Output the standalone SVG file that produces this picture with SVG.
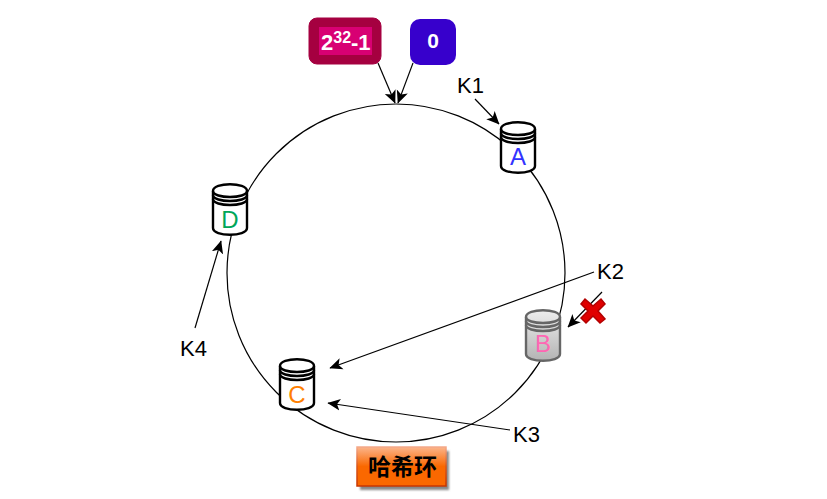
<svg xmlns="http://www.w3.org/2000/svg" width="827" height="499" viewBox="0 0 827 499">
<style>
.lbl{font-family:"Liberation Sans",Arial,sans-serif;font-size:22px;fill:#000}
.ltr{font-family:"Liberation Sans",Arial,sans-serif;font-size:24px;text-anchor:middle}
.c{fill:none;stroke:#000;stroke-width:1.2}
.body{stroke-width:2.4}
.wt{font-family:"Liberation Sans",Arial,sans-serif;font-weight:bold;fill:#fff}
</style>
<defs>
<marker id="a" viewBox="0 0 10 10" refX="9.5" refY="5" markerWidth="13" markerHeight="13" markerUnits="userSpaceOnUse" orient="auto"><path d="M0 0.5L10 5L0 9.5L2.5 5Z" fill="#000"/></marker>
<linearGradient id="g" x1="0" y1="0" x2="0" y2="1"><stop offset="0" stop-color="#eee"/><stop offset="1" stop-color="#b3b3b3"/></linearGradient>
<linearGradient id="o" x1="0" y1="0" x2="0" y2="1"><stop offset="0" stop-color="#fbb58c"/><stop offset=".5" stop-color="#fa6800"/><stop offset="1" stop-color="#fa6800"/></linearGradient>
<linearGradient id="ob" x1="0" y1="0" x2="0" y2="1"><stop offset="0" stop-color="#f4a98a"/><stop offset=".5" stop-color="#d9551a"/><stop offset="1" stop-color="#c73500"/></linearGradient>
<filter id="s" x="-10%" y="-10%" width="130%" height="130%"><feGaussianBlur stdDeviation="1"/></filter>
<g id="cyl">
<path class="body" d="M0 7C0-2 34-2 34 7V44C34 53 0 53 0 44Z"/>
<path class="body" fill="none" d="M0 7C0 15 34 15 34 7M0 11C0 19 34 19 34 11M0 15C0 23 34 23 34 15"/>
</g>
</defs>

<g id="connectors">
<circle class="c" cx="396" cy="273" r="169"/>
<g class="c">
<line x1="378" y1="63" x2="395" y2="103" marker-end="url(#a)"/>
<line x1="413" y1="63" x2="398" y2="103" marker-end="url(#a)"/>
<line x1="475" y1="99" x2="499" y2="124" marker-end="url(#a)"/>
<line x1="594" y1="272" x2="330" y2="368" marker-end="url(#a)"/>
<line x1="602" y1="292" x2="568" y2="327" marker-end="url(#a)"/>
<line x1="510" y1="430" x2="328" y2="403" marker-end="url(#a)"/>
<line x1="195" y1="328" x2="221" y2="241" marker-end="url(#a)"/>
</g>
</g>

<g id="max">
<rect x="309" y="18" width="72" height="46" rx="8" fill="#a50040" stroke="#a50040"/>
<rect x="319" y="27" width="53" height="28" fill="#d80073"/>
<text class="wt" x="321" y="50" font-size="22">2<tspan font-size="16" dy="-7">32</tspan><tspan dy="7">-1</tspan></text>
</g>
<g id="zero">
<rect x="410" y="19" width="46" height="46" rx="10" fill="#3700cc"/>
<text class="wt" x="433" y="48" font-size="21" text-anchor="middle">0</text>
</g>

<g id="A"><use href="#cyl" x="501" y="122" fill="#fff" stroke="#000"/><text class="ltr" x="518" y="165" fill="#3333ff">A</text></g>
<g id="B"><use href="#cyl" x="526" y="310" fill="url(#g)" stroke="#666"/><text class="ltr" x="543" y="352" fill="#ff66b3">B</text></g>
<g id="C"><use href="#cyl" x="280" y="359" fill="#fff" stroke="#000"/><text class="ltr" x="297" y="403" fill="#ff8000">C</text></g>
<g id="D"><use href="#cyl" x="213" y="184" fill="#fff" stroke="#000"/><text class="ltr" x="230" y="228" fill="#00a65a">D</text></g>

<g id="K1"><text class="lbl" x="457" y="93">K1</text></g>
<g id="K2"><text class="lbl" x="597" y="279">K2</text></g>
<g id="K3"><text class="lbl" x="513" y="442">K3</text></g>
<g id="K4"><text class="lbl" x="180" y="356">K4</text></g>

<g id="cross"><path d="M585 299L593 306L601 299L605 304L598 311L605 319L600 323L593 316L586 323L581 318L588 311L581 304Z" fill="#e00000" stroke="#b20000" stroke-width="1.5"/></g>

<g id="ring-label">
<rect x="360" y="451" width="89" height="39" fill="#888" filter="url(#s)"/>
<rect x="357" y="447" width="89" height="39" fill="url(#o)" stroke="url(#ob)" stroke-width="1.5"/>
<text x="402.5" y="475" font-family="'Noto Sans CJK SC',sans-serif" font-size="23" font-weight="bold" text-anchor="middle" fill="#000">哈希环</text>
</g>
</svg>
